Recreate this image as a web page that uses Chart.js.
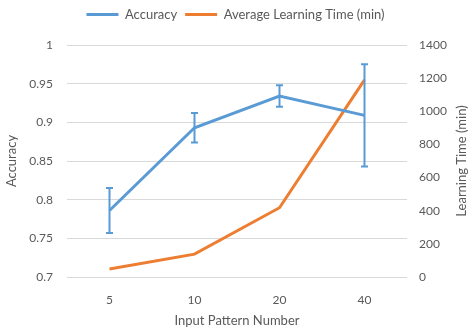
<!DOCTYPE html>
<html><head><meta charset="utf-8">
<script src="https://cdn.jsdelivr.net/npm/chart.js@4"></script>
<style>html,body{margin:0;padding:0;background:#fff}#wrap{width:471px;height:333px}</style>
</head><body><div id="wrap"><canvas id="c" width="471" height="333"></canvas></div>
<script>
const categories = ['5', '10', '20', '40'];
const accuracy = [0.786, 0.893, 0.934, 0.909];
const accuracyError = [0.029, 0.019, 0.014, 0.066];
const learningTime = [48, 138, 418, 1190];
const leftTicks = [0.7, 0.75, 0.8, 0.85, 0.9, 0.95, 1];
const rightTicks = [0, 200, 400, 600, 800, 1000, 1200, 1400];

const BLUE = '#5B9BD5', ORANGE = '#ED7D31', GREY = '#595959';
const FONT = 'Lato, "Liberation Sans", sans-serif';

const errorBars = {
  id: 'errorBars',
  afterDatasetsDraw(chart) {
    const meta = chart.getDatasetMeta(0);
    const ys = chart.scales.y;
    const ctx = chart.ctx;
    ctx.save();
    ctx.strokeStyle = BLUE;
    ctx.lineWidth = 2;
    meta.data.forEach((pt, i) => {
      const x = pt.x;
      const top = ys.getPixelForValue(accuracy[i] + accuracyError[i]);
      const bot = ys.getPixelForValue(accuracy[i] - accuracyError[i]);
      ctx.beginPath();
      ctx.moveTo(x, top); ctx.lineTo(x, bot);
      ctx.moveTo(x - 3.5, top); ctx.lineTo(x + 3.5, top);
      ctx.moveTo(x - 3.5, bot); ctx.lineTo(x + 3.5, bot);
      ctx.stroke();
    });
    ctx.restore();
  }
};

const legendSpace = {
  id: 'legendSpace',
  beforeInit(chart) {
    const orig = chart.legend.fit;
    chart.legend.fit = function () { orig.call(this); this.height += 14; };
  }
};

const rightTitle = {
  id: 'rightTitle',
  afterDraw(chart) {
    const ctx = chart.ctx, a = chart.chartArea;
    ctx.save();
    ctx.translate(462, (a.top + a.bottom) / 2);
    ctx.rotate(-Math.PI / 2);
    ctx.font = '13px ' + FONT;
    ctx.fillStyle = GREY;
    ctx.textAlign = 'center';
    ctx.textBaseline = 'middle';
    ctx.fillText('Learning Time (min)', 0, 0);
    ctx.restore();
  }
};

new Chart(document.getElementById('c'), {
  type: 'line',
  data: {
    labels: categories,
    datasets: [
      { label: 'Accuracy', data: accuracy, yAxisID: 'y', borderColor: BLUE, backgroundColor: BLUE,
        borderWidth: 3, pointRadius: 0, tension: 0, pointStyle: 'line' },
      { label: 'Average Learning Time (min)', data: learningTime, yAxisID: 'y2', borderColor: ORANGE, backgroundColor: ORANGE,
        borderWidth: 3, pointRadius: 0, tension: 0, pointStyle: 'line' }
    ]
  },
  options: {
    responsive: false,
    animation: false,
    devicePixelRatio: 1,
    layout: { padding: { top: 0, left: 0, right: 0, bottom: 0 } },
    plugins: {
      legend: {
        position: 'top',
        labels: { usePointStyle: true, pointStyleWidth: 32, boxHeight: 3, color: GREY,
                  font: { family: FONT, size: 13 }, padding: 8 }
      },
      tooltip: { enabled: false }
    },
    scales: {
      x: {
        offset: true,
        grid: { display: false },
        border: { display: false },
        ticks: { color: GREY, font: { family: FONT, size: 12 }, padding: 8 },
        title: { display: true, text: 'Input Pattern Number', color: GREY, font: { family: FONT, size: 13 }, padding: { top: 2 } },
        afterFit(s) { s.height = 56; }
      },
      y: {
        position: 'left',
        min: 0.7, max: 1,
        afterBuildTicks(s) { s.ticks = leftTicks.map(v => ({ value: v })); },
        grid: { color: '#D9D9D9', lineWidth: 1, drawTicks: false },
        border: { display: false },
        ticks: { color: GREY, font: { family: FONT, size: 12 }, padding: 14,
                 callback: v => String(Math.round(v * 100) / 100) },
        title: { display: true, text: 'Accuracy', color: GREY, font: { family: FONT, size: 13 }, padding: { top: 4, bottom: 0 } },
        afterFit(s) { s.width = 67; }
      },
      y2: {
        position: 'right',
        min: 0, max: 1400,
        afterBuildTicks(s) { s.ticks = rightTicks.map(v => ({ value: v })); },
        grid: { display: false, drawTicks: false },
        border: { display: false },
        ticks: { color: GREY, font: { family: FONT, size: 12 }, padding: 12,
                 callback: v => String(v) },
        afterFit(s) { s.width = 64; }
      }
    }
  },
  plugins: [errorBars, legendSpace, rightTitle]
});
</script></body></html>
